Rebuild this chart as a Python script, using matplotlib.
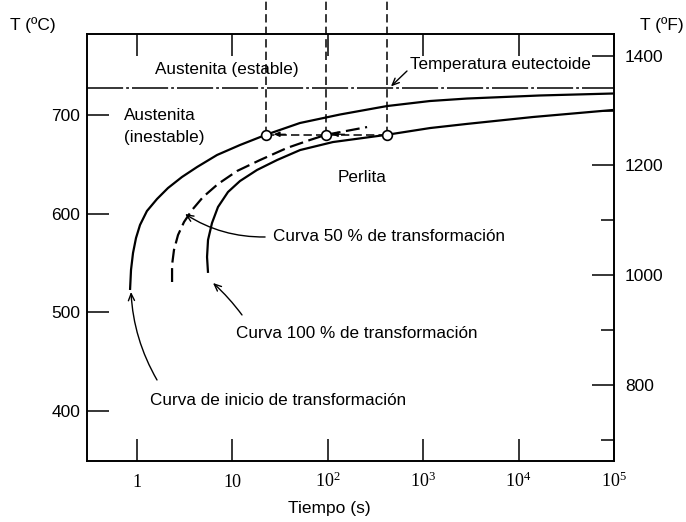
import matplotlib
matplotlib.use("Agg")
import matplotlib.pyplot as plt
from matplotlib import font_manager
from matplotlib.ticker import FixedLocator, NullLocator

plt.rcParams['font.family'] = ['Liberation Sans', 'DejaVu Sans']
plt.rcParams['lines.scale_dashes'] = False
plt.rcParams['mathtext.default'] = 'regular'

# --- TTT curves for eutectoid steel: time (s) vs temperature (°C) ---
inicio_t = [0.845, 0.865, 0.908, 0.976, 1.075, 1.27, 1.62, 2.11, 2.96, 4.26,
            6.90, 12.0, 22.5, 51, 134, 418, 1180, 2880, 16700, 97700]
inicio_T = [522.7, 543.0, 560.2, 575.4, 588.6, 602.7, 614.9, 626.0, 637.2, 647.3,
            659.5, 669.6, 680.0, 691.9, 700.5, 709.1, 714.2, 716.7, 719.8, 721.8]

mitad_t = [2.33, 2.33, 2.44, 2.69, 3.11, 3.77, 4.92, 7.06, 11.2, 19.5,
           37.3, 65, 96, 258]
mitad_T = [530.8, 548.0, 563.2, 578.4, 591.6, 603.7, 616.9, 630.1, 643.3, 654.4,
           666.6, 674.7, 680.0, 687.8]

final_t = [5.55, 5.42, 5.55, 6.11, 7.06, 8.99, 12.0, 18.1, 29.4, 51.2,
           113, 418, 1180, 2880, 14200, 97700]
final_T = [540.0, 556.1, 573.4, 590.6, 606.8, 622.0, 633.1, 644.3, 654.4, 664.5,
           672.6, 680.0, 686.8, 691.0, 698.0, 705.1]

# isothermal hold and the three marked times
iso_T = 680
iso_t = [22.5, 96, 418]

T_eutectoide = 727

x_ticks = [1, 10, 100, 1e3, 1e4, 1e5]
x_labels = ['1', '10', r'$10^2$', r'$10^3$', r'$10^4$', r'$10^5$']
c_ticks = [400, 500, 600, 700]
f_ticks = [800, 1000, 1200, 1400]
f_minor = [700, 900, 1100, 1300]

x_lim = (0.299, 1e5)
c_lim = (349.4, 782.1)


def c2f(c):
    return c * 9 / 5 + 32


narrow = 'Liberation Sans Narrow'
names = {f.name for f in font_manager.fontManager.ttflist}
axis_font = [narrow, 'Liberation Sans'] if narrow in names else ['Liberation Sans']

fig = plt.figure(figsize=(6.86, 5.22), dpi=100)
ax = fig.add_axes([87 / 686, 1 - 461 / 522, (614 - 87) / 686, (461 - 34) / 522])
ax.set_xscale('log')
ax.set_xlim(*x_lim)
ax.set_ylim(*c_lim)

for s in ax.spines.values():
    s.set_linewidth(1.2)

# x axis
ax.xaxis.set_major_locator(FixedLocator(x_ticks))
ax.xaxis.set_minor_locator(NullLocator())
ax.set_xticklabels(x_labels, family='Liberation Serif', fontsize=13, va='baseline')
ax.tick_params(axis='x', which='major', direction='in', length=16, width=1.1,
               top=True, bottom=True, pad=19)

# left (°C) axis
ax.set_yticks(c_ticks)
ax.set_yticklabels([str(v) for v in c_ticks], fontsize=12.5)
ax.tick_params(axis='y', direction='in', length=16, width=1.1, left=True,
               right=False, pad=5)

# right (°F) axis
ax2 = ax.twinx()
ax2.set_position(ax.get_position())
ax2.set_ylim(c2f(c_lim[0]), c2f(c_lim[1]))
ax2.set_yticks(f_ticks)
ax2.set_yticklabels([str(v) for v in f_ticks], fontsize=12.5)
ax2.yaxis.set_minor_locator(FixedLocator(f_minor))
ax2.tick_params(axis='y', which='major', direction='in', length=16, width=1.1, pad=8)
ax2.tick_params(axis='y', which='minor', direction='in', length=9.5, width=1.1)
for s in ax2.spines.values():
    s.set_linewidth(1.2)

# eutectoid temperature
ax.axhline(T_eutectoide, color='black', lw=1.1, dashes=(26, 2.2, 2, 2.2))

# transformation curves
ax.plot(inicio_t, inicio_T, color='black', lw=1.6, solid_capstyle='butt',
        solid_joinstyle='round')
ax.plot(mitad_t, mitad_T, color='black', lw=1.6, dashes=(10, 4))
ax.plot(final_t, final_T, color='black', lw=1.6, solid_capstyle='butt',
        solid_joinstyle='round')

# isothermal line and vertical guides running up off the chart
ax.plot([iso_t[0], iso_t[-1]], [iso_T, iso_T], color='black', lw=1.1, dashes=(6, 3))
fig_top = ax.transData.inverted().transform(fig.transFigure.transform((0.5, 1.0)))[1]
for t in iso_t:
    ax.plot([t, t], [iso_T, fig_top], color='black', lw=1.1, dashes=(6, 3),
            clip_on=False)
ax.plot(iso_t, [iso_T] * len(iso_t), linestyle='none', marker='o', ms=7,
        mfc='white', mec='black', mew=1.2, zorder=5)

# small arrowheads along the isotherm
small = dict(arrowstyle='-|>,head_length=0.35,head_width=0.15', color='black',
             lw=0.9, shrinkA=0, shrinkB=0)
ax.annotate('', xy=(27, iso_T + 0.5), xytext=(36, iso_T + 0.5), arrowprops=small)
ax.annotate('', xy=(110, iso_T + 0.5), xytext=(150, iso_T + 0.5), arrowprops=small)

# labels
fs = 12.3
ax.text(8.8, 746.6, 'Austenita (estable)', fontsize=fs, ha='center', va='center')
ax.text(728, 750.7, 'Temperatura eutectoide', fontsize=fs, ha='left', va='center')
ax.text(0.73, 700, 'Austenita', fontsize=fs, ha='left', va='center')
ax.text(0.73, 677.7, '(inestable)', fontsize=fs, ha='left', va='center')
ax.text(128, 636.2, 'Perlita', fontsize=fs, ha='left', va='center')
ax.text(26.7, 576.4, 'Curva 50 % de transformación', fontsize=fs, ha='left', va='center')
ax.text(10.9, 479.0, 'Curva 100 % de transformación', fontsize=fs, ha='left', va='center')
ax.text(1.37, 411.2, 'Curva de inicio de transformación', fontsize=fs, ha='left',
        va='center')

arrow = dict(arrowstyle='->,head_length=0.5,head_width=0.22', color='black', lw=1.0,
             shrinkA=0, shrinkB=0)
ax.annotate('', xy=(459, 729), xytext=(676, 744.6),
            arrowprops=dict(arrow, connectionstyle='arc3,rad=0'))
ax.annotate('', xy=(3.19, 599.7), xytext=(22, 576.4),
            arrowprops=dict(arrow, connectionstyle='arc3,rad=-0.15'))
ax.annotate('', xy=(6.26, 529.8), xytext=(12.6, 497.4),
            arrowprops=dict(arrow, connectionstyle='arc3,rad=0.05'))
ax.annotate('', xy=(0.865, 520.7), xytext=(1.62, 431.5),
            arrowprops=dict(arrow, connectionstyle='arc3,rad=-0.12'))

# axis titles
fig.text(10 / 686, 1 - 25 / 522, 'T (ºC)', fontsize=12.5, ha='left', va='center')
fig.text(640 / 686, 1 - 25 / 522, 'T (ºF)', fontsize=12.5, ha='left', va='center')
fig.text(329 / 686, 1 - 508 / 522, 'Tiempo (s)', fontsize=12.5, ha='center',
         va='center', family=axis_font)

fig.savefig('out.png', dpi=100)
